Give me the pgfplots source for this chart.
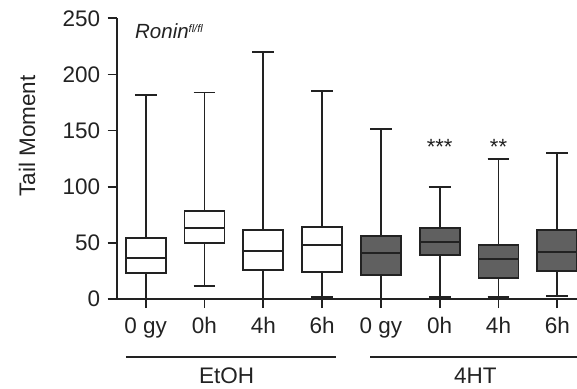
\documentclass[border=0pt]{standalone}
\usepackage{pgfplots}
\pgfplotsset{compat=1.18}
\usepgfplotslibrary{statistics}
\usepackage{fontspec}
\setmainfont{Liberation Sans}
\definecolor{boxdark}{HTML}{606060}
\definecolor{ln}{HTML}{222222}
\newcommand{\bigfnt}{\fontsize{22.5bp}{27bp}\selectfont}
\begin{document}
\begin{tikzpicture}
\useasboundingbox (-116.7bp,-90bp) rectangle (460.3bp,299bp);
\begin{axis}[
  scale only axis, width=460.3bp, height=280.7bp,
  xmin=-0.493, xmax=7.335, ymin=0, ymax=250,
  axis x line*=bottom, axis y line*=left,
  axis line style={-, line width=1.8bp, color=ln},
  xtick={0,...,7}, xticklabels={0 gy,0h,4h,6h,0 gy,0h,4h,6h},
  ytick={0,50,...,250},
  tick align=outside, major tick length=9bp,
  tick style={line width=1.8bp, color=ln},
  clip=false,
  /pgf/number format/assume math mode=true,
  every tick label/.append style={font=\bigfnt, text=ln},
  xticklabel style={yshift=-6bp},
  yticklabel style={xshift=-4bp},
  ylabel={Tail Moment},
  ylabel style={at={(axis description cs:0,0.581)}, anchor=center, yshift=89.7bp, font=\bigfnt, text=ln},
  boxplot/draw direction=y,
  boxplot/box extend=0.68, boxplot/whisker extend=0.37,
]
% EtOH
\addplot[draw=ln, line width=1.8bp, fill=white, boxplot prepared={draw position=0, lower whisker=0, lower quartile=22.9, median=36.8, upper quartile=54.6, upper whisker=181.7}] coordinates {};
\addplot[draw=ln, line width=1.8bp, fill=white, boxplot prepared={draw position=1, lower whisker=11.3, lower quartile=50.2, median=63, upper quartile=78.6, upper whisker=184}] coordinates {};
\addplot[draw=ln, line width=1.8bp, fill=white, boxplot prepared={draw position=2, lower whisker=0, lower quartile=26.1, median=42.7, upper quartile=61.2, upper whisker=219.7}] coordinates {};
\addplot[draw=ln, line width=1.8bp, fill=white, boxplot prepared={draw position=3, lower whisker=1.5, lower quartile=24.3, median=48.1, upper quartile=64.4, upper whisker=185.2}] coordinates {};
% 4HT
\addplot[draw=ln, line width=1.8bp, fill=boxdark, boxplot prepared={draw position=4, lower whisker=0.5, lower quartile=21.6, median=40.7, upper quartile=56.1, upper whisker=151.7}] coordinates {};
\addplot[draw=ln, line width=1.8bp, fill=boxdark, boxplot prepared={draw position=5, lower whisker=2, lower quartile=39.2, median=50.8, upper quartile=63.5, upper whisker=100}] coordinates {};
\addplot[draw=ln, line width=1.8bp, fill=boxdark, boxplot prepared={draw position=6, lower whisker=2, lower quartile=19, median=35.3, upper quartile=47.8, upper whisker=124.7}] coordinates {};
\addplot[draw=ln, line width=1.8bp, fill=boxdark, boxplot prepared={draw position=7, lower whisker=2.7, lower quartile=24.9, median=42.1, upper quartile=61.4, upper whisker=130}] coordinates {};
% annotations
\node[anchor=base, font=\fontsize{22bp}{26bp}\selectfont, text=ln] at (axis cs:5,128.6) {***};
\node[anchor=base, font=\fontsize{22bp}{26bp}\selectfont, text=ln] at (axis cs:6,128.6) {**};
\node[anchor=base west, inner sep=0pt, font=\fontsize{20.5bp}{24bp}\selectfont, text=ln] at (axis cs:-0.182,232.4) {\textit{Ronin}\raisebox{5.5bp}{\fontsize{11bp}{13bp}\selectfont\textit{fl/fl}}};
\draw[line width=1.8bp, ln] (axis cs:-0.335,-51.4) -- (axis cs:3.231,-51.4);
\draw[line width=1.8bp, ln] (axis cs:3.815,-51.4) -- (axis cs:7.335,-51.4);
\node[anchor=base, inner sep=0pt, font=\bigfnt, text=ln] at (axis cs:1.378,-75.1) {EtOH};
\node[anchor=base, inner sep=0pt, font=\bigfnt, text=ln] at (axis cs:5.605,-75.1) {4HT};
\end{axis}
\end{tikzpicture}
\end{document}
